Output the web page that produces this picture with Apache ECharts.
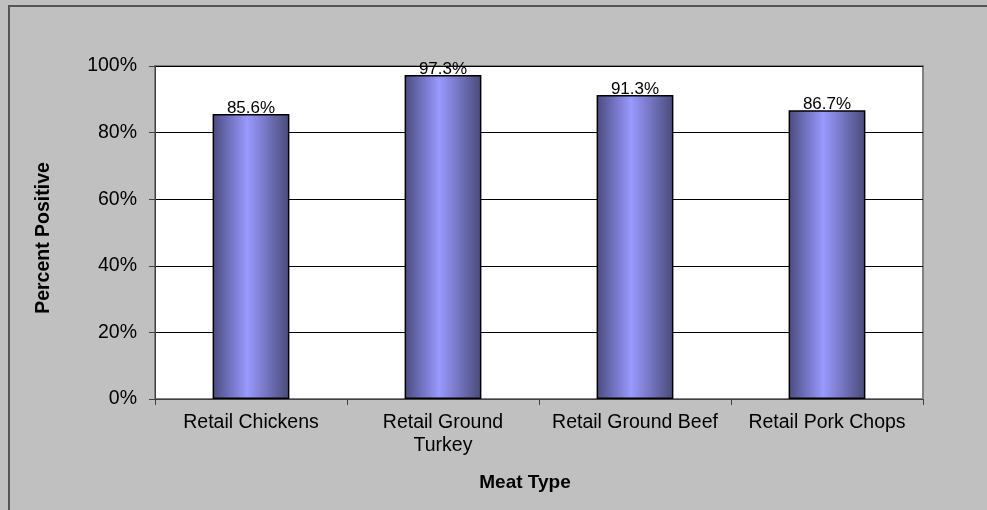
<!DOCTYPE html>
<html><head><meta charset="utf-8">
<script src="https://cdn.jsdelivr.net/npm/echarts@6/dist/echarts.min.js"></script>
<style>html,body{margin:0;padding:0;background:#C0C0C0;}#c{width:987px;height:510px;}</style>
</head><body><div id="c"></div>
<script>
const categories = ['Retail Chickens', 'Retail Ground\nTurkey', 'Retail Ground Beef', 'Retail Pork Chops'];
const values = [85.6, 97.3, 91.3, 86.7];
const yTicks = [0, 20, 40, 60, 80, 100];

const chart = echarts.init(document.getElementById('c'), null, {renderer: 'canvas'});
const font = '"Liberation Sans", Arial, sans-serif';
chart.setOption({
  backgroundColor: '#C0C0C0',
  animation: false,
  graphic: [
    {type: 'rect', shape: {x: 9, y: 6, width: 1200, height: 800}, style: {fill: 'none', stroke: '#555', lineWidth: 2}, z: 0},
    {type: 'rect', shape: {x: 155, y: 66, width: 768, height: 333}, style: {fill: '#fff', stroke: '#808080', lineWidth: 2}, z: -1},
    {type: 'text', x: 525, y: 483, style: {text: 'Meat Type', font: 'bold 19px ' + font, fill: '#000', textAlign: 'center', textVerticalAlign: 'middle'}},
    {type: 'text', x: 44, y: 238, rotation: Math.PI / 2, style: {text: 'Percent Positive', font: 'bold 19.5px ' + font, fill: '#000', textAlign: 'center', textVerticalAlign: 'middle'}}
  ],
  grid: {left: 155, top: 66, right: 64, bottom: 111, show: false},
  xAxis: {
    type: 'category', data: categories,
    axisLine: {lineStyle: {color: '#404040', width: 1}},
    axisTick: {show: true, length: 6, lineStyle: {color: '#404040'}},
    axisLabel: {color: '#000', fontSize: 19.5, fontFamily: font, margin: 12, lineHeight: 23, interval: 0}
  },
  yAxis: {
    type: 'value', min: 0, max: 100, interval: 20,
    axisLine: {show: true, lineStyle: {color: '#404040', width: 1}},
    axisTick: {show: true, length: 6, lineStyle: {color: '#404040'}},
    axisLabel: {color: '#000', fontSize: 19.5, fontFamily: font, margin: 18,
      formatter: v => yTicks.includes(v) ? v + '%' : ''},
    splitLine: {show: true, lineStyle: {color: '#000', width: 1}}
  },
  series: [{
    type: 'bar', data: values, barWidth: '40%',
    itemStyle: {
      borderColor: '#000', borderWidth: 1.5,
      color: {type: 'linear', x: 0, y: 0, x2: 1, y2: 0, colorStops: [
        {offset: 0, color: '#4a4a80'}, {offset: 0.45, color: '#9999ff'}, {offset: 1, color: '#4a4a78'}]}
    },
    label: {show: true, position: 'top', distance: -3, formatter: p => p.value.toFixed(1) + '%',
      color: '#000', fontSize: 17, fontFamily: font}
  }]
});
</script></body></html>
